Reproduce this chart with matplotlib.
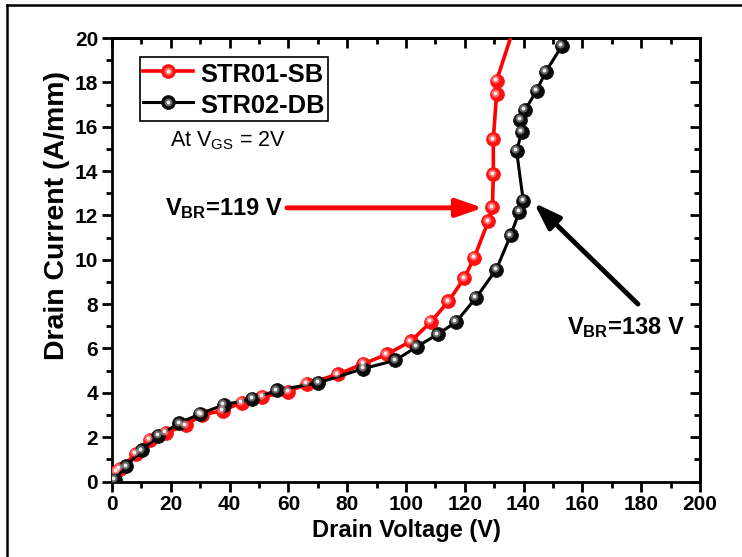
import matplotlib
matplotlib.use("Agg")
import matplotlib.pyplot as plt
from matplotlib.lines import Line2D
from matplotlib.transforms import ScaledTranslation
from matplotlib.ticker import MultipleLocator
from matplotlib.legend_handler import HandlerTuple

plt.rcParams['font.family'] = ['Liberation Sans', 'DejaVu Sans']
plt.rcParams['mathtext.fontset'] = 'custom'
plt.rcParams['mathtext.rm'] = 'Liberation Sans'
plt.rcParams['mathtext.bf'] = 'Liberation Sans:bold'
plt.rcParams['mathtext.it'] = 'Liberation Sans:italic'

# Drain voltage (V) and drain current (A/mm) for the two structures
v_sb = [1.5, 2.7, 8.0, 12.8, 18.3, 25.0, 30.5, 37.6, 44.1, 51.1, 60.0, 66.2,
        76.8, 85.5, 93.4, 101.7, 108.5, 114.4, 119.8, 123.2, 128.0, 129.4,
        129.7, 129.7, 130.8, 130.8, 138.0]
i_sb = [0.45, 0.57, 1.24, 1.87, 2.2, 2.53, 3.0, 3.2, 3.56, 3.81, 4.05, 4.41,
        4.83, 5.31, 5.73, 6.33, 7.2, 8.12, 9.17, 10.09, 11.74, 12.36,
        13.86, 15.44, 17.46, 18.07, 21.0]

v_db = [1.0, 4.8, 10.1, 15.7, 22.9, 29.9, 38.1, 47.7, 56.0, 70.2, 85.5, 96.3,
        103.6, 110.8, 117.0, 123.8, 130.7, 135.6, 138.5, 139.9, 137.6, 139.4,
        138.9, 140.5, 144.4, 147.5, 153.0, 157.0]
i_db = [0.08, 0.69, 1.4, 2.06, 2.63, 3.05, 3.46, 3.72, 4.11, 4.45, 5.09, 5.46,
        6.07, 6.64, 7.19, 8.28, 9.56, 11.1, 12.16, 12.65, 14.92, 15.76,
        16.3, 16.75, 17.62, 18.47, 19.64, 20.6]

x_ticks = list(range(0, 201, 20))
y_ticks = list(range(0, 21, 2))

fig = plt.figure(figsize=(7.42, 5.57), dpi=100)
ax = fig.add_axes([112 / 742, 1 - 481.5 / 557, (700 - 112) / 742, (481.5 - 38) / 557])

hl = ScaledTranslation(-1.6 / 100, 1.6 / 100, fig.dpi_scale_trans)


def ball_series(x, y, color, dark, light, lw, label):
    line, = ax.plot(x, y, '-', color=color, lw=lw, marker='o', ms=10,
                    mfc=dark, mec=dark, mew=0.5, label=label, zorder=3)
    glow, = ax.plot(x, y, 'o', ms=5.8, mfc=light, mec='none', alpha=0.55,
                    transform=ax.transData + hl, zorder=4)
    spot, = ax.plot(x, y, 'o', ms=2.8, mfc='white', mec='none', alpha=0.9,
                    transform=ax.transData + hl, zorder=5)
    return (line, glow, spot)


h_sb = ball_series(v_sb, i_sb, '#ff0000', '#ff0f0f', '#ffb0b0', 2.6, 'STR01-SB')
h_db = ball_series(v_db, i_db, '#000000', '#0a0a0a', '#b0b0b0', 2.2, 'STR02-DB')

ax.set_xlim(0, 200)
ax.set_ylim(0, 20)
ax.set_xticks(x_ticks)
ax.set_yticks(y_ticks)
ax.xaxis.set_minor_locator(MultipleLocator(10))
ax.yaxis.set_minor_locator(MultipleLocator(1))
ax.tick_params(axis='both', which='major', direction='out', length=7, width=2,
               labelsize=15, pad=3)
ax.tick_params(axis='both', which='minor', direction='out', length=4, width=2)
for lab in ax.get_xticklabels() + ax.get_yticklabels():
    lab.set_fontweight('bold')
for sp in ax.spines.values():
    sp.set_linewidth(2)

# mirrored inward ticks on top and right
top = ax.secondary_xaxis('top')
top.set_xticks(x_ticks)
top.xaxis.set_minor_locator(MultipleLocator(10))
top.tick_params(which='major', direction='in', length=7, width=2, labeltop=False)
top.tick_params(which='minor', direction='in', length=4, width=2)
top.spines['top'].set_linewidth(2)
right = ax.secondary_yaxis('right')
right.set_yticks(y_ticks)
right.yaxis.set_minor_locator(MultipleLocator(1))
right.tick_params(which='major', direction='in', length=7, width=2, labelright=False)
right.tick_params(which='minor', direction='in', length=4, width=2)
right.spines['right'].set_linewidth(2)

ax.set_xlabel('Drain Voltage (V)', fontsize=17, fontweight='bold', labelpad=3)
ax.set_ylabel('Drain Current (A/mm)', fontsize=20.5, fontweight='bold', labelpad=4)
ax.yaxis.set_label_coords(-0.071, 0.60)

leg = ax.legend([h_sb, h_db], ['STR01-SB', 'STR02-DB'],
                handler_map={tuple: HandlerTuple(ndivide=1, pad=0)},
                loc='upper left', bbox_to_anchor=(0.0476, 0.957), frameon=True,
                fancybox=False, edgecolor='black', framealpha=1,
                prop={'weight': 'bold', 'size': 18.4}, handlelength=1.95,
                handleheight=1.25, handletextpad=0.3, borderpad=0.12,
                labelspacing=0.15, borderaxespad=0)
leg.get_frame().set_linewidth(1.2)

ax.text(19.7, 15.35, r'At V$_\mathrm{GS}$ = 2V', fontsize=15.5, va='center', ha='left')

ax.text(18.0, 12.3, r'V$_\mathbf{BR}$=119 V', fontsize=17, fontweight='bold',
        va='center', ha='left')
ax.annotate('', xy=(126.2, 12.34), xytext=(59.5, 12.34),
            arrowprops=dict(arrowstyle='-|>,head_length=1.6,head_width=0.55',
                            color='#ff0000', lw=3.5, shrinkA=0, shrinkB=0))

ax.text(154.8, 6.95, r'V$_\mathbf{BR}$=138 V', fontsize=17, fontweight='bold',
        va='center', ha='left')
ax.annotate('', xy=(143.5, 12.57), xytext=(178.9, 8.0),
            arrowprops=dict(arrowstyle='-|>,head_length=1.6,head_width=0.55',
                            color='black', lw=3.5, shrinkA=0, shrinkB=0))

# outer frame lines
fig.add_artist(Line2D([7.5 / 742, 1], [1 - 4.5 / 557, 1 - 4.5 / 557],
                      transform=fig.transFigure, color='black', lw=1.8))
fig.add_artist(Line2D([7.5 / 742, 7.5 / 742], [0, 1 - 4.5 / 557],
                      transform=fig.transFigure, color='black', lw=1.8))

fig.savefig('out.png', dpi=100)
